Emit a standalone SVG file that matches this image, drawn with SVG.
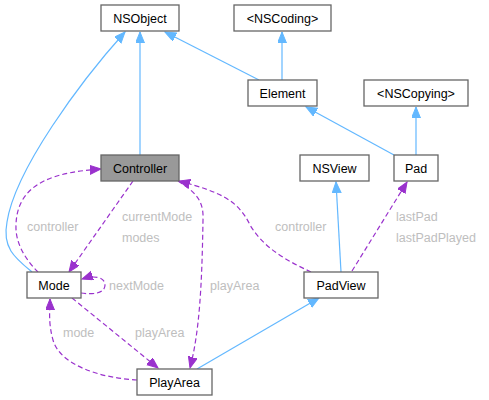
<svg xmlns="http://www.w3.org/2000/svg" width="489" height="400" viewBox="0 0 489 400">
<style>
.node rect{fill:#ffffff;stroke:#666666;stroke-width:1.3}
.node text{font-family:"Liberation Sans",Arial,sans-serif;font-size:12.5px;fill:#000000;text-anchor:middle}
.inh{fill:none;stroke:#63b8ff;stroke-width:1.2;marker-end:url(#ab)}
.use{fill:none;stroke:#9a32cd;stroke-width:1.2;stroke-dasharray:5,3;marker-end:url(#ap)}
.lbl{font-family:"Liberation Sans",Arial,sans-serif;font-size:12.5px;fill:#bebebe}
</style>
<defs>
<marker id="ab" markerUnits="userSpaceOnUse" markerWidth="12" markerHeight="10" refX="11" refY="4.5" orient="auto"><path d="M0,0 L11,4.5 L0,9 z" fill="#63b8ff" stroke="#63b8ff"/></marker>
<marker id="ap" markerUnits="userSpaceOnUse" markerWidth="12" markerHeight="10" refX="11" refY="4.5" orient="auto"><path d="M0,0 L11,4.5 L0,9 z" fill="#9a32cd" stroke="#9a32cd"/></marker>
</defs>
<g id="edges">
<path class="inh" d="M140,155 L140,32"/>
<path class="inh" d="M32,272 C15,258 2,248 7,222 C15,170 80,82 125,32"/>
<path class="inh" d="M259,80 L165,32"/>
<path class="inh" d="M282,80 L282,32"/>
<path class="inh" d="M394,155 L306,107"/>
<path class="inh" d="M416,155 L416,107"/>
<path class="inh" d="M341,272 L336,182"/>
<path class="inh" d="M197,369 L319,298"/>
<path class="use" d="M38,272 C28,262 15,245 16,225 C17,180 60,172 101,169"/>
<path class="use" d="M133,181 L69,272"/>
<path class="use" d="M81,293 C94,295 105,293 105,285 C105,277 94,275 82,279"/>
<path class="use" d="M72,298 L158,368"/>
<path class="use" d="M137,380 C100,378 60,365 53,340 C48,322 50,310 50,299"/>
<path class="use" d="M178,181 C195,192 204,200 203,220 C202,280 200,330 190,368"/>
<path class="use" d="M311,272 C290,262 265,250 250,225 C238,200 220,192 179,181"/>
<path class="use" d="M352,271 L407,182"/>
<text class="lbl" x="27" y="231">controller</text>
<text class="lbl" x="122" y="221">currentMode</text>
<text class="lbl" x="122" y="242">modes</text>
<text class="lbl" x="109" y="290">nextMode</text>
<text class="lbl" x="135" y="337">playArea</text>
<text class="lbl" x="63" y="337">mode</text>
<text class="lbl" x="210" y="290">playArea</text>
<text class="lbl" x="275" y="231">controller</text>
<text class="lbl" x="396" y="221">lastPad</text>
<text class="lbl" x="396" y="242">lastPadPlayed</text>
</g>
<g id="NSObject" class="node"><rect x="101" y="5" width="78" height="26"/><text x="140" y="22.5">NSObject</text></g>
<g id="NSCoding" class="node"><rect x="234" y="5" width="97" height="26"/><text x="282.5" y="22.5">&lt;NSCoding&gt;</text></g>
<g id="Element" class="node"><rect x="248" y="80" width="69" height="26"/><text x="282.5" y="97.5">Element</text></g>
<g id="NSCopying" class="node"><rect x="364" y="80" width="104" height="26"/><text x="416" y="97.5">&lt;NSCopying&gt;</text></g>
<g id="Controller" class="node"><rect x="101" y="155" width="78" height="26" style="fill:#999999"/><text x="140" y="172.5">Controller</text></g>
<g id="NSView" class="node"><rect x="300" y="155" width="69" height="26"/><text x="334.5" y="172.5">NSView</text></g>
<g id="Pad" class="node"><rect x="394" y="155" width="44" height="26"/><text x="416" y="172.5">Pad</text></g>
<g id="Mode" class="node"><rect x="27" y="272" width="54" height="26"/><text x="54" y="289.5">Mode</text></g>
<g id="PadView" class="node"><rect x="304" y="272" width="74" height="26"/><text x="341" y="289.5">PadView</text></g>
<g id="PlayArea" class="node"><rect x="137" y="369" width="75" height="26"/><text x="174.5" y="386.5">PlayArea</text></g>
</svg>
